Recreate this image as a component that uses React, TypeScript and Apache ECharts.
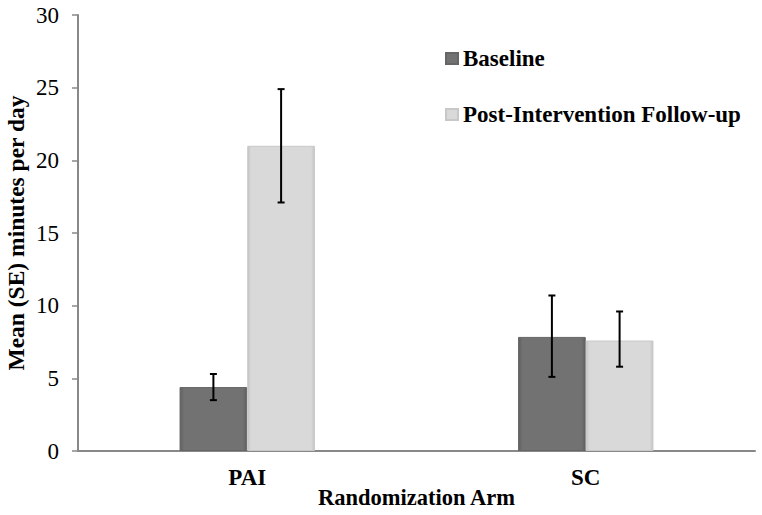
import React, { useEffect, useRef } from "react";
import * as echarts from "echarts";

const categories = ["PAI", "SC"];
const seriesNames = ["Baseline", "Post-Intervention Follow-up"];
const baselineMean = [4.4, 7.85];
const baselineLow = [3.5, 5.1];
const baselineHigh = [5.3, 10.7];
const postMean = [21.0, 7.6];
const postLow = [17.1, 5.8];
const postHigh = [24.9, 9.6];
const yTicks = [0, 5, 10, 15, 20, 25, 30];

const FONT = "'Liberation Serif', 'Times New Roman', serif";
const BAR_FRAC = 0.2;

export default function App() {
  const ref = useRef<HTMLDivElement>(null);
  useEffect(() => {
    if (!ref.current) return;
    const chart = echarts.init(ref.current, null, { renderer: "svg", width: 762, height: 515 });

    const errData: number[][] = [];
    categories.forEach((_, i) => {
      errData.push([i, baselineLow[i], baselineHigh[i], -0.5]);
      errData.push([i, postLow[i], postHigh[i], 0.5]);
    });

    const darkGrad = new echarts.graphic.LinearGradient(0, 0, 1, 0, [
      { offset: 0, color: "#5f5f5f" },
      { offset: 0.06, color: "#727272" },
      { offset: 0.94, color: "#727272" },
      { offset: 1, color: "#5f5f5f" },
    ]);
    const lightGrad = new echarts.graphic.LinearGradient(0, 0, 1, 0, [
      { offset: 0, color: "#c4c4c4" },
      { offset: 0.05, color: "#d9d9d9" },
      { offset: 0.95, color: "#d9d9d9" },
      { offset: 1, color: "#c4c4c4" },
    ]);

    chart.setOption({
      animation: false,
      backgroundColor: "#ffffff",
      grid: { left: 78, right: 7, top: 15, bottom: 64, containLabel: false, outerBoundsMode: "none" },
      legend: {
        orient: "vertical",
        left: 440,
        top: 42,
        itemGap: 33,
        itemWidth: 12,
        itemHeight: 11,
        icon: "rect",
        data: seriesNames,
        textStyle: {
          fontFamily: FONT,
          fontWeight: "bold",
          fontSize: 23,
          color: "#000",
          lineHeight: 23,
        },
      },
      xAxis: {
        type: "category",
        data: categories,
        name: "Randomization Arm",
        nameLocation: "middle",
        nameGap: 35,
        nameMoveOverlap: false,
        nameTextStyle: { fontFamily: FONT, fontWeight: "bold", fontSize: 22.5, color: "#000" },
        axisLine: { lineStyle: { color: "#888", width: 2 } },
        axisTick: { show: false },
        axisLabel: { fontFamily: FONT, fontWeight: "bold", fontSize: 23, color: "#000", margin: 15 },
      },
      yAxis: {
        type: "value",
        min: yTicks[0],
        max: yTicks[yTicks.length - 1],
        interval: 5,
        name: "Mean (SE) minutes per day",
        nameLocation: "middle",
        nameRotate: 90,
        nameGap: 50,
        nameMoveOverlap: false,
        nameTextStyle: { fontFamily: FONT, fontWeight: "bold", fontSize: 23.5, color: "#000" },
        axisLine: { show: true, lineStyle: { color: "#888", width: 2 } },
        axisTick: { show: true, length: 6, lineStyle: { color: "#888", width: 1.5 } },
        splitLine: { show: false },
        axisLabel: { fontFamily: FONT, fontSize: 23, color: "#000", margin: 19 },
      },
      series: [
        {
          name: seriesNames[0],
          type: "bar",
          data: baselineMean,
          barWidth: "20%",
          barGap: "0%",
          itemStyle: { color: darkGrad, borderColor: "#666", borderWidth: 1 },
        },
        {
          name: seriesNames[1],
          type: "bar",
          data: postMean,
          barWidth: "20%",
          barGap: "0%",
          itemStyle: { color: lightGrad, borderColor: "#c8c8c8", borderWidth: 1 },
        },
        {
          type: "custom",
          data: errData,
          z: 10,
          silent: true,
          renderItem: (params: any, api: any) => {
            const ci = api.value(0);
            const lo = api.coord([ci, api.value(1)]);
            const hi = api.coord([ci, api.value(2)]);
            const band = api.size([1, 0])[0];
            const x = lo[0] + api.value(3) * band * BAR_FRAC;
            const cap = 3.5;
            const style = { stroke: "#000", lineWidth: 2 };
            return {
              type: "group",
              children: [
                { type: "line", shape: { x1: x, y1: lo[1], x2: x, y2: hi[1] }, style },
                { type: "line", shape: { x1: x - cap, y1: lo[1], x2: x + cap, y2: lo[1] }, style },
                { type: "line", shape: { x1: x - cap, y1: hi[1], x2: x + cap, y2: hi[1] }, style },
              ],
            };
          },
        },
      ],
    });

    return () => chart.dispose();
  }, []);

  return <div ref={ref} style={{ width: 762, height: 515, position: "fixed", left: 0, top: 0 }} />;
}
